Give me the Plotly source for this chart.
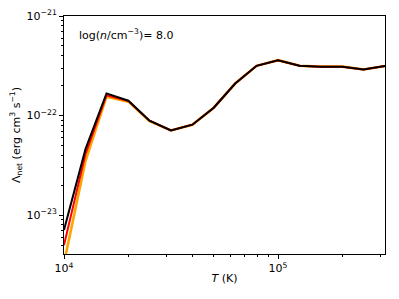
import plotly.graph_objects as go

# Temperature grid (K)
T = [1.0e4, 1.26e4, 1.58e4, 2.0e4, 2.51e4, 3.16e4, 3.98e4, 5.01e4,
     6.31e4, 7.94e4, 1.0e5, 1.26e5, 1.58e5, 2.0e5, 2.51e5, 3.16e5]

# Net cooling rate (erg cm^3 s^-1) for three models
lam_orange = [3.3e-24, 3.5e-23, 1.55e-22, 1.38e-22, 8.8e-23, 7.1e-23, 8.1e-23, 1.2e-22,
              2.1e-22, 3.16e-22, 3.6e-22, 3.16e-22, 3.1e-22, 3.1e-22, 2.9e-22, 3.15e-22]
lam_red = [5.0e-24, 4.1e-23, 1.6e-22, 1.4e-22, 8.9e-23, 7.1e-23, 8.1e-23, 1.2e-22,
           2.1e-22, 3.16e-22, 3.6e-22, 3.16e-22, 3.1e-22, 3.1e-22, 2.9e-22, 3.15e-22]
lam_black = [7.1e-24, 4.6e-23, 1.67e-22, 1.41e-22, 8.9e-23, 7.1e-23, 8.1e-23, 1.2e-22,
             2.1e-22, 3.16e-22, 3.6e-22, 3.16e-22, 3.1e-22, 3.1e-22, 2.9e-22, 3.15e-22]

x_tickvals = [1e4, 1e5]
x_ticktext = ["10<sup>4</sup>", "10<sup>5</sup>"]
y_tickvals = [1e-23, 1e-22, 1e-21]
y_ticktext = ["10<sup>−23</sup>", "10<sup>−22</sup>", "10<sup>−21</sup>"]

FONT = "DejaVu Sans"
fig = go.Figure()
for ys, col, w in [(lam_orange, "#FFA500", 2.6), (lam_red, "#FF0000", 2.0), (lam_black, "#000000", 2.0)]:
    fig.add_trace(go.Scatter(x=T, y=ys, mode="lines", line=dict(color=col, width=w),
                             showlegend=False, hoverinfo="skip"))

axis_common = dict(
    type="log", showgrid=False, zeroline=False, showline=True, linecolor="black",
    linewidth=1, mirror=True, ticks="outside", ticklen=4, tickwidth=1, tickcolor="black",
    automargin=False,
    tickfont=dict(family=FONT, size=11, color="black"),
    minor=dict(ticks="outside", ticklen=2, tickwidth=0.8, tickcolor="black", dtick="D1", showgrid=False),
)

fig.update_xaxes(axis_common, range=[4, 5.5], tickmode="array", tickvals=x_tickvals,
                 ticktext=x_ticktext,
                 title=dict(text="<i>T</i> (K)", font=dict(family=FONT, size=11, color="black"), standoff=0))
fig.update_yaxes(axis_common, range=[-23.39, -21], tickmode="array", tickvals=y_tickvals,
                 ticktext=y_ticktext,
                 title=dict(text="Λ<sub>net</sub> (erg cm<sup>3</sup> s<sup>−1</sup>)",
                            font=dict(family=FONT, size=11, color="black"), standoff=4))

fig.add_annotation(x=0.04, y=0.924, xref="paper", yref="paper", xanchor="left", yanchor="middle",
                   text="log(<i>n</i>/cm<sup>−3</sup>)= 8.0", showarrow=False,
                   font=dict(family=FONT, size=11, color="black"))

fig.update_layout(width=391, height=291, margin=dict(l=56, r=14, t=8, b=45),
                  plot_bgcolor="white", paper_bgcolor="white")
fig.write_html("out.html")
